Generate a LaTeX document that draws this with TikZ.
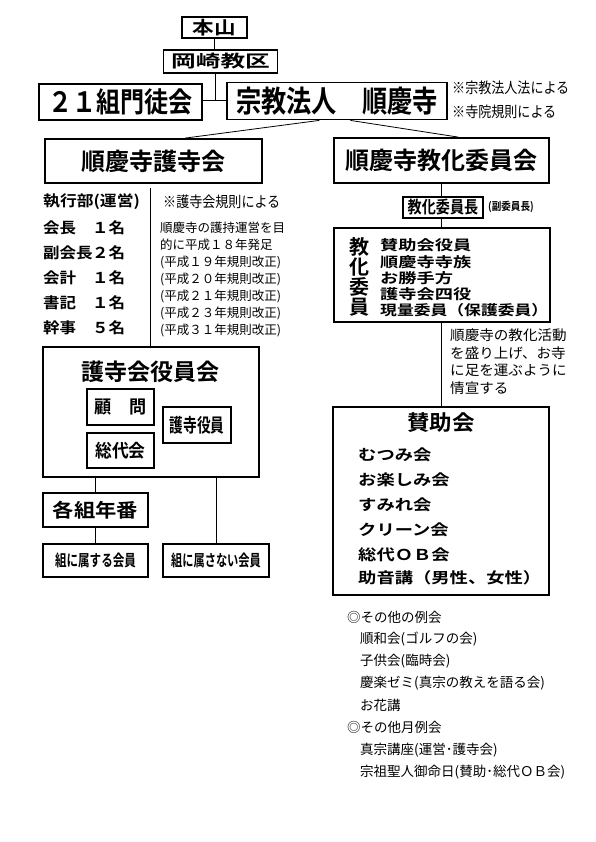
\documentclass[tikz,border=0pt]{standalone}
\usepackage{graphicx}
\usepackage{fontspec}
\setmainfont{Noto Sans CJK JP}
\newfontfamily\gb{Noto Sans CJK JP Bold}
\newfontfamily\gr{Noto Sans CJK JP}
\usetikzlibrary{calc}
\newcommand{\sx}[2]{\scalebox{#1}[1]{#2}}
\newcommand{\fs}[1]{\fontsize{#1}{#1}\selectfont}
\tikzset{
  bx/.style={draw, line width=1.8pt, inner sep=0pt, fill=white},
  thinbx/.style={draw, line width=1.2pt, inner sep=0pt},
  ln/.style={line width=0.8pt},
  lt/.style={anchor=west, inner sep=0pt},
}
\begin{document}
\begin{tikzpicture}[x=1pt,y=-1pt]
\useasboundingbox[fill=white] (0,0) rectangle (595,842);

% top
\node[bx, minimum width=65pt, minimum height=21pt, font=\gb\fs{18}] (honzan) at (214.5,27.5) {\sx{1.2}{本山}};
\node[bx, minimum width=114pt, minimum height=23pt, font=\gb\fs{17}] (okazaki) at (220.5,61.5) {\sx{1.45}{岡崎教区}};
\node[bx, minimum width=163pt, minimum height=36pt, font=\gb\fs{28}] (monto) at (120.5,102) {\sx{0.86}{２１組門徒会}};
\node[bx, minimum width=220pt, minimum height=37pt, font=\gb\fs{30}] (houjin) at (337,101) {\sx{0.84}{宗教法人　順慶寺}};
\node[lt, font=\gr\fs{15}] (n1) at (452,88) {\sx{0.87}{※宗教法人法による}};
\node[lt, font=\gr\fs{15}] (n2) at (452,112) {\sx{0.87}{※寺院規則による}};

\coordinate (j) at (215,100);
\draw[ln] (honzan.south) -- (honzan.south |- okazaki.north);
\draw[ln] (okazaki.south -| j) -- (j);
\draw[ln] (monto.east |- j) -- (houjin.west |- j);

% second level
\node[bx, minimum width=217pt, minimum height=44pt, font=\gb\fs{24}] (gojikai) at (153.5,161) {順慶寺護寺会};
\node[bx, minimum width=215pt, minimum height=45pt, font=\gb\fs{24}] (kyoka) at (441.5,160.5) {順慶寺教化委員会};
\draw[ln] ($(houjin.south west)!0.42!(houjin.south east)$) -- ($(gojikai.north west)!0.645!(gojikai.north east)$);
\draw[ln] ($(houjin.south west)!0.56!(houjin.south east)$) -- ($(kyoka.north west)!0.577!(kyoka.north east)$);

% left list
\node[lt, font=\gb\fs{15}] (exec) at (43,202) {\sx{1.12}{執行部(運営)}};
\node[lt, font=\gb\fs{15}] (r1a) at (43,228) {\sx{1.1}{会長}};
\node[lt, font=\gb\fs{15}] (r1b) at (92,228) {\sx{1.1}{１名}};
\node[lt, font=\gb\fs{15}] (r2a) at (43,253) {\sx{1.1}{副会長}};
\node[lt, font=\gb\fs{15}] (r2b) at (92,253) {\sx{1.1}{２名}};
\node[lt, font=\gb\fs{15}] (r3a) at (43,278) {\sx{1.1}{会計}};
\node[lt, font=\gb\fs{15}] (r3b) at (92,278) {\sx{1.1}{１名}};
\node[lt, font=\gb\fs{15}] (r4a) at (43,303) {\sx{1.1}{書記}};
\node[lt, font=\gb\fs{15}] (r4b) at (92,303) {\sx{1.1}{１名}};
\node[lt, font=\gb\fs{15}] (r5a) at (43,328) {\sx{1.1}{幹事}};
\node[lt, font=\gb\fs{15}] (r5b) at (92,328) {\sx{1.1}{５名}};

\node[lt, font=\gr\fs{15}] (n3) at (163,202) {\sx{0.87}{※護寺会規則による}};
\node[lt, font=\gr\fs{12.5}] (m1) at (160,228) {順慶寺の護持運営を目};
\node[lt, font=\gr\fs{12.5}] (m2) at (160,245) {的に平成１８年発足};
\node[lt, font=\gr\fs{12.5}] (m3) at (160,262) {(平成１９年規則改正)};
\node[lt, font=\gr\fs{12.5}] (m4) at (160,279) {(平成２０年規則改正)};
\node[lt, font=\gr\fs{12.5}] (m5) at (160,296) {(平成２１年規則改正)};
\node[lt, font=\gr\fs{12.5}] (m6) at (160,313) {(平成２３年規則改正)};
\node[lt, font=\gr\fs{12.5}] (m7) at (160,330) {(平成３１年規則改正)};

% yakuinkai
\node[bx, minimum width=216pt, minimum height=130pt] (yakuin) at (151,412) {};
\node[font=\gb\fs{23}, inner sep=0pt] (ytitle) at (150,372) {護寺会役員会};
\node[thinbx, minimum width=67pt, minimum height=36pt, font=\gb\fs{18}] (komon) at (120.5,407) {\sx{0.95}{顧　問}};
\node[thinbx, minimum width=67pt, minimum height=35pt, font=\gb\fs{18}] (sodai) at (120.5,450.5) {\sx{0.93}{総代会}};
\node[thinbx, minimum width=68pt, minimum height=36pt, font=\gb\fs{19}] (gojiy) at (197,425) {\sx{0.72}{護寺役員}};

\coordinate (dv) at (150,188);
\draw[ln] (dv) -- (dv |- yakuin.north);

\node[bx, line width=2.4pt, minimum width=105pt, minimum height=34pt, font=\gb\fs{19}] (kakukumi) at (95.5,510) {\sx{1.12}{各組年番}};
\node[bx, minimum width=105pt, minimum height=33pt, font=\gb\fs{16}] (zoku) at (95.5,560.5) {\sx{0.72}{組に属する会員}};
\node[bx, minimum width=106pt, minimum height=33pt, font=\gb\fs{16}] (zokun) at (216,560.5) {\sx{0.7}{組に属さない会員}};
\draw[ln] (yakuin.south -| kakukumi) -- (kakukumi.north);
\draw[ln] (kakukumi.south) -- (zoku.north);
\draw[ln] (yakuin.south -| zokun) -- (zokun.north);

% right column
\node[thinbx, line width=1.5pt, minimum width=80pt, minimum height=21pt, font=\gb\fs{17}] (iinchou) at (443,207.5) {\sx{0.83}{教化委員長}};
\node[lt, font=\gb\fs{11}] (fuku) at (488,207) {\sx{0.87}{(副委員長)}};
\node[bx, minimum width=216pt, minimum height=94pt] (iin) at (442,275) {};
\node[font=\gb\fs{20}, align=center, inner sep=0pt, text depth=0pt] (iinv) at (359,276) {\fontsize{20}{18.3}\selectfont 教\\化\\委\\員};
\node[lt, font=\gb\fs{14}] (i1) at (380,245) {\sx{1.3}{賛助会役員}};
\node[lt, font=\gb\fs{14}] (i2) at (380,262) {\sx{1.3}{順慶寺寺族}};
\node[lt, font=\gb\fs{14}] (i3) at (380,278) {\sx{1.3}{お勝手方}};
\node[lt, font=\gb\fs{14}] (i4) at (380,294) {\sx{1.3}{護寺会四役}};
\node[lt, font=\gb\fs{14}] (i5) at (380,310) {\sx{1.2}{現量委員（保護委員）}};

\coordinate (kx) at (441,0);
\draw[ln] (kyoka.south -| kx) -- (iinchou.north -| kx);
\draw[ln] (iinchou.south -| kx) -- (iin.north -| kx);

\node[lt, font=\gr\fs{14}] (p1) at (450,335) {\sx{1.04}{順慶寺の教化活動}};
\node[lt, font=\gr\fs{14}] (p2) at (450,353) {\sx{1.04}{を盛り上げ、お寺}};
\node[lt, font=\gr\fs{14}] (p3) at (450,370) {\sx{1.04}{に足を運ぶように}};
\node[lt, font=\gr\fs{14}] (p4) at (450,388) {\sx{1.04}{情宣する}};

\node[bx, line width=2.4pt, minimum width=216pt, minimum height=188pt] (sanjo) at (441,501) {};
\draw[ln] (iin.south -| kx) -- (sanjo.north -| kx);
\node[font=\gb\fs{21}, inner sep=0pt] (stitle) at (441,423) {\sx{1.07}{賛助会}};
\node[lt, font=\gb\fs{15}] (s1) at (358,455) {\sx{1.22}{むつみ会}};
\node[lt, font=\gb\fs{15}] (s2) at (358,480) {\sx{1.22}{お楽しみ会}};
\node[lt, font=\gb\fs{15}] (s3) at (358,505) {\sx{1.22}{すみれ会}};
\node[lt, font=\gb\fs{15}] (s4) at (358,530) {\sx{1.22}{クリーン会}};
\node[lt, font=\gb\fs{15}] (s5) at (358,555) {\sx{1.22}{総代ＯＢ会}};
\node[lt, font=\gb\fs{15}] (s6) at (358,578) {\sx{1.22}{助音講（男性、女性）}};

% bottom notes
\node[lt, font=\gr\fs{13.5}] (b1) at (347,617) {◎その他の例会};
\node[lt, font=\gr\fs{13.5}] (b2) at (360,639) {順和会(ゴルフの会)};
\node[lt, font=\gr\fs{13.5}] (b3) at (360,661) {子供会(臨時会)};
\node[lt, font=\gr\fs{13.5}] (b4) at (360,683) {慶楽ゼミ(真宗の教えを語る会)};
\node[lt, font=\gr\fs{13.5}] (b5) at (360,705) {お花講};
\node[lt, font=\gr\fs{13.5}] (b6) at (347,727) {◎その他月例会};
\node[lt, font=\gr\fs{13.5}] (b7) at (360,750) {真宗講座(運営･護寺会)};
\node[lt, font=\gr\fs{13.5}] (b8) at (360,772) {宗祖聖人御命日(賛助･総代ＯＢ会)};
\end{tikzpicture}
\end{document}
